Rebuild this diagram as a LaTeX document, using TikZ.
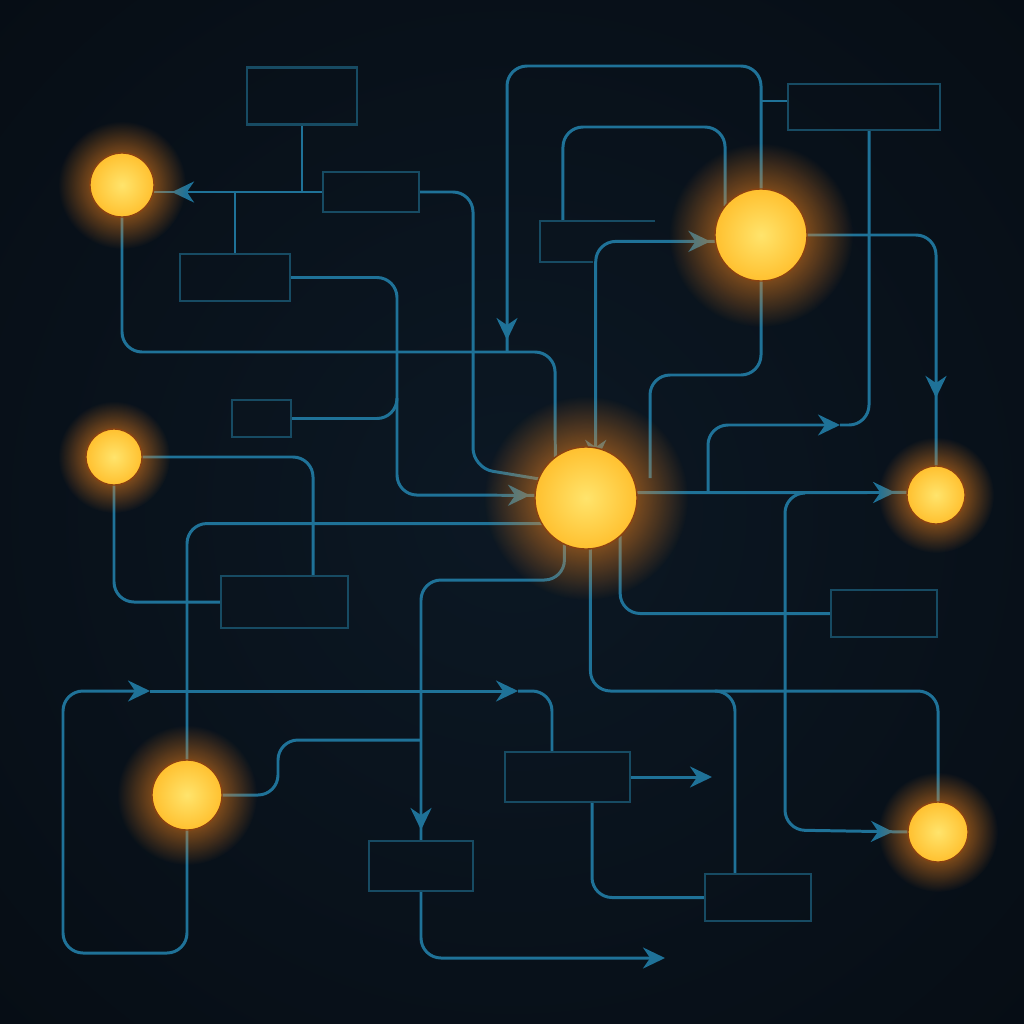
\documentclass[tikz,border=0pt]{standalone}
\usetikzlibrary{arrows.meta, decorations.markings, fadings}
\definecolor{bgin}{HTML}{0C1824}
\definecolor{bgout}{HTML}{020509}
\definecolor{wirec}{HTML}{1F7298}
\definecolor{panelc}{HTML}{174B63}
\definecolor{lampin}{HTML}{FFE46C}
\definecolor{lampmid}{HTML}{FFC232}
\definecolor{lampout}{HTML}{F3961C}
\definecolor{lampedge}{HTML}{8A4212}
\definecolor{glowc}{HTML}{FF8A1C}
\pgfdeclarelayer{bg}
\pgfdeclarelayer{wires}
\pgfsetlayers{bg,wires,main}
\pgfdeclareradialshading{bgshade}{\pgfpointorigin}{color(0bp)=(bgin); color(62bp)=(bgout)}
\pgfdeclareradialshading{lampshade}{\pgfpointorigin}{color(0bp)=(lampin); color(24bp)=(lampmid); color(50bp)=(lampout)}
\tikzfading[name=glowfade, inner color=transparent!10, outer color=transparent!100]
\tikzstyle{lamp} = [circle, inner sep=0pt, outer sep=0pt, draw=lampedge, line width=0.4pt, shade, shading=lampshade]
\tikzstyle{panel} = [rectangle, inner sep=0pt, outer sep=0pt, draw=panelc, line width=0.8pt]
\tikzstyle{wire} = [draw, color=wirec, line width=0.85pt, rounded corners=2mm]
\tikzset{>={Stealth[length=2.2mm, width=2.1mm]},
  arrowat/.style={decoration={markings, mark=at position #1 with {\arrow{>}}}, postaction={decorate}}}
\newcommand{\lamp}[3]{\fill[glowc, path fading=glowfade] (#2) circle [radius=#3*0.02cm];%
  \node[lamp, minimum size=#3*0.02cm] (#1) at (#2) {};}

\begin{document}
\begin{tikzpicture}[x=0.01cm, y=-0.01cm]%
\useasboundingbox (0,0) rectangle (1024,1024);%
\begin{pgfonlayer}{bg}
  \shade[shading=bgshade] (0,0) rectangle (1024,1024);%
\end{pgfonlayer}
\lamp{C1}{122,185}{32}
\lamp{C2}{761,235}{46}
\lamp{C3}{114,457}{28}
\lamp{C4}{586,498}{51}
\lamp{C5}{936,495}{29}
\lamp{C6}{187,795}{35}
\lamp{C7}{938,832}{30}
\node[panel, minimum width=1.10cm, minimum height=0.57cm] (B1) at (302,96) {};
\node[panel, minimum width=0.96cm, minimum height=0.40cm] (B2) at (371,192) {};
\node[panel, minimum width=1.10cm, minimum height=0.47cm] (B3) at (235,277.5) {};
\node[minimum width=1.15cm, minimum height=0.41cm, inner sep=0pt, outer sep=0pt] (B4) at (597.5,241.5) {};
\draw[panelc, line width=0.8pt] (B4.north east) -- (B4.north west) -- (B4.south west) -- ([xshift=0.53cm]B4.south west);
\node[panel, minimum width=1.52cm, minimum height=0.46cm] (B5) at (864,107) {};
\node[panel, minimum width=0.59cm, minimum height=0.37cm] (B6) at (261.5,418.5) {};
\node[panel, minimum width=1.27cm, minimum height=0.52cm] (B7) at (284.5,602) {};
\node[panel, minimum width=1.06cm, minimum height=0.47cm] (B8) at (884,613.5) {};
\node[panel, minimum width=1.25cm, minimum height=0.50cm] (B9) at (567.5,777) {};
\node[panel, minimum width=1.04cm, minimum height=0.50cm] (B10) at (421,866) {};
\node[panel, minimum width=1.06cm, minimum height=0.47cm] (B11) at (758,897.5) {};
\coordinate (j1) at (708,493);
\coordinate (j2) at (805,493);
\coordinate (j3) at (421,740);
\coordinate (j4) at (715,691);
\coordinate (j5) at (650,478);
\coordinate (j6) at (507,352);
\coordinate (j7) at (397,398);
\coordinate (t1) at (150,691);
\coordinate (t2) at (518,691);
\coordinate (e1) at (712,777);
\coordinate (e2) at (665,958);
\coordinate (e3) at (840,425);
\begin{pgfonlayer}{wires}
  \draw[wire] (B1.south) -- (B1.south |- B2.west);
  \draw[wire, arrowat=-1.8mm] (B2.west) -- (B2.west -| C1.east);
  \draw[wire] (B3.north) -- (B3.north |- B2.west);
  \draw[wire, arrowat=-0.5mm] (B3.east) -| (397,495) -- (C4.177);
  \draw[wire] (B6.east) -| (j7);
  \draw[wire] (B2.east) -| (473,468) -- (C4.158);
  \draw[wire] (C1.south) |- (555,352) -- (C4.127);
  \draw[wire, arrowat=-1.2mm] (C2.north) |- (507,66) -- (j6);
  \draw[wire] ([yshift=0.06cm]B5.west) -- ([yshift=0.06cm]B5.west -| C2.north);
  \draw[wire] ([xshift=0.23cm]B4.north west) |- (725,127) -- (C2.141);
  \draw[wire, decoration={markings, mark=at position 0.8mm with {\arrow{<}},
    mark=at position -0.5mm with {\arrow{>}}}, postaction={decorate}] (C4.79) |- (C2.188);
  \draw[wire] (C2.south) |- (650,375) -- (j5);
  \draw[wire, arrowat=-6.8mm] (C2.east) -| (C5.north);
  \draw[wire] ([xshift=0.05cm]B5.south) |- (e3);
  \draw[wire, ->] (j1) |- (e3);
  \draw[wire, arrowat=-1.2mm] (C4.6) -- (C5.175);
  \draw[wire, arrowat=-1.5mm] (j2) -| (785,830) -- (C7.west);
  \draw[wire] (C3.east) -| ([xshift=0.92cm]B7.north west);
  \draw[wire] (C3.south) |- (B7.west);
  \draw[wire] (C4.210) -| (C6.north);
  \draw[wire, arrowat=-1.1mm] (C4.245) |- (421,580) -- (B10.north);
  \draw[wire] (C6.east) -| (278,740) -- (j3);
  \draw[wire, ->] (C6.south) |- (63,953) |- (t1);
  \draw[wire, ->] (t1) -- (t2);
  \draw[wire] (t2) -| ([xshift=0.47cm]B9.north west);
  \draw[wire] (C4.275) |- (938,691) -- (C7.north);
  \draw[wire] (j4) -| ([xshift=0.30cm]B11.north west);
  \draw[wire] (C4.312) |- (B8.west);
  \draw[wire, ->] (B9.east) -- (e1);
  \draw[wire] ([xshift=0.87cm]B9.south west) |- (B11.west);
  \draw[wire, ->] (B10.south) |- (e2);
\end{pgfonlayer}
\end{tikzpicture}
\end{document}
